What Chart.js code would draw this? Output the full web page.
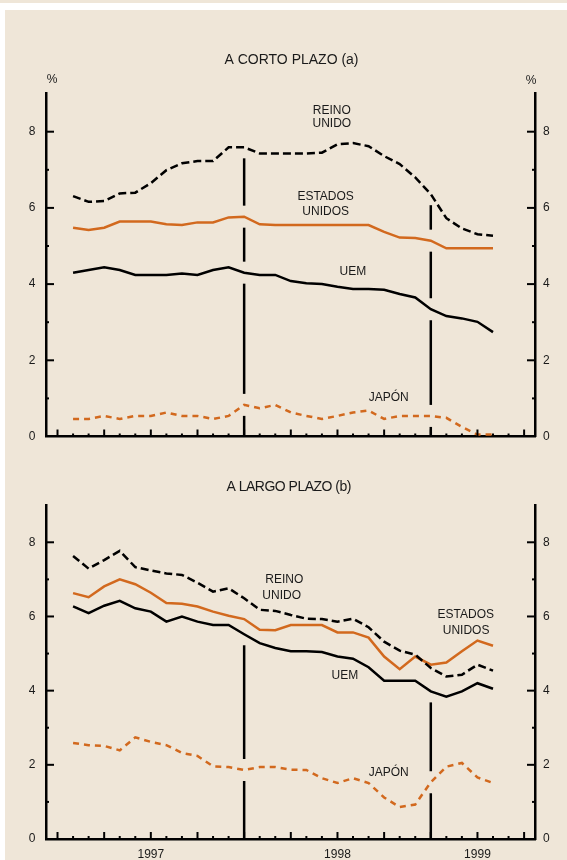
<!DOCTYPE html>
<html lang="es">
<head>
<meta charset="utf-8">
<title>Tipos de interés a corto y a largo plazo</title>
<script src="https://cdn.jsdelivr.net/npm/chart.js@4.4.0/dist/chart.umd.min.js"></script>
<style>
  html, body { margin: 0; padding: 0; background: #fff; }
  body { width: 567px; height: 860px; position: relative; overflow: hidden; }
  .franja { position: absolute; left: 0; top: 0; width: 567px; height: 3px; background: #efe6d8; }
  .panel { position: absolute; left: 5px; top: 10px; right: 0; bottom: 0; background: #efe6d8; }
  #grafCorto { position: absolute; left: 0; top: 0; }
  #grafLargo { position: absolute; left: 0; top: 460px; }
</style>
</head>
<body>
<div class="franja"></div>
<div class="panel"></div>
<canvas id="grafCorto" width="567" height="460"></canvas>
<canvas id="grafLargo" width="567" height="400"></canvas>

<script>
// ===============================
// Datos (mensuales, feb-1997 a may-1999)
// ===============================
const meses = [
  'feb-97', 'mar-97', 'abr-97', 'may-97', 'jun-97', 'jul-97', 'ago-97', 'sep-97', 'oct-97', 'nov-97', 'dic-97',
  'ene-98', 'feb-98', 'mar-98', 'abr-98', 'may-98', 'jun-98', 'jul-98', 'ago-98', 'sep-98', 'oct-98', 'nov-98', 'dic-98',
  'ene-99', 'feb-99', 'mar-99', 'abr-99', 'may-99'
];
const anios = ['1997', '1998', '1999'];
const valoresY = [0, 2, 4, 6, 8];

// A corto plazo (a)
const cortoReino = [6.31, 6.16, 6.18, 6.38, 6.40, 6.65, 6.99, 7.17, 7.23, 7.23, 7.59, 7.59, 7.43, 7.43,
  7.43, 7.43, 7.45, 7.67, 7.70, 7.62, 7.36, 7.15, 6.80, 6.36, 5.73, 5.46, 5.31, 5.27];
const cortoEEUU = [5.48, 5.42, 5.48, 5.64, 5.64, 5.64, 5.57, 5.55, 5.62, 5.62, 5.75, 5.77, 5.57, 5.55,
  5.55, 5.55, 5.55, 5.55, 5.55, 5.55, 5.37, 5.22, 5.21, 5.14, 4.94, 4.94, 4.94, 4.94];
const cortoUEM = [4.30, 4.37, 4.44, 4.37, 4.24, 4.24, 4.24, 4.28, 4.24, 4.37, 4.44, 4.30, 4.24, 4.24,
  4.08, 4.02, 4.00, 3.93, 3.87, 3.87, 3.85, 3.74, 3.65, 3.34, 3.16, 3.10, 3.01, 2.74];
const cortoJapon = [0.46, 0.46, 0.54, 0.46, 0.54, 0.54, 0.63, 0.54, 0.54, 0.46, 0.54, 0.83, 0.74, 0.83,
  0.63, 0.54, 0.46, 0.54, 0.63, 0.68, 0.46, 0.54, 0.54, 0.54, 0.49, 0.25, 0.05, 0.05];

// A largo plazo (b)
const largoReino = [7.63, 7.29, 7.52, 7.77, 7.33, 7.24, 7.16, 7.12, 6.91, 6.67, 6.76, 6.49, 6.18, 6.15,
  6.04, 5.94, 5.93, 5.86, 5.94, 5.71, 5.32, 5.08, 4.97, 4.61, 4.38, 4.43, 4.70, 4.54];
const largoEEUU = [6.63, 6.52, 6.81, 7.00, 6.87, 6.64, 6.36, 6.34, 6.27, 6.13, 6.02, 5.93, 5.64, 5.63,
  5.77, 5.77, 5.77, 5.57, 5.57, 5.43, 4.92, 4.58, 4.92, 4.70, 4.76, 5.06, 5.35, 5.21];
const largoUEM = [6.27, 6.09, 6.29, 6.42, 6.22, 6.13, 5.86, 6.00, 5.86, 5.77, 5.77, 5.52, 5.28, 5.15,
  5.06, 5.06, 5.04, 4.92, 4.86, 4.63, 4.27, 4.27, 4.27, 3.98, 3.84, 3.98, 4.20, 4.05];
const largoJapon = [2.59, 2.53, 2.51, 2.39, 2.74, 2.62, 2.53, 2.32, 2.24, 1.96, 1.94, 1.86, 1.94, 1.94,
  1.87, 1.86, 1.64, 1.51, 1.64, 1.51, 1.12, 0.86, 0.93, 1.53, 1.95, 2.05, 1.66, 1.51];

// ===============================
// Estilos
// ===============================
const NARANJA = '#d2691e';
const NEGRO = '#000';
const TEXTO = '#1a1a1a';
const FUENTE = '"Liberation Sans", Arial, sans-serif';

// posición en el eje x = meses desde ene-1997
function serie(valores) {
  return valores.map((v, i) => ({ x: i + 1, y: v }));
}

function datasets(reino, eeuu, uem, japon) {
  const base = { pointRadius: 0, borderWidth: 2.5, tension: 0, fill: false };
  return [
    { ...base, label: 'Reino Unido', data: serie(reino), borderColor: NEGRO, borderDash: [8, 4] },
    { ...base, label: 'Estados Unidos', data: serie(eeuu), borderColor: NARANJA },
    { ...base, label: 'UEM', data: serie(uem), borderColor: NEGRO },
    { ...base, label: 'Japón', data: serie(japon), borderColor: NARANJA, borderDash: [6, 5] }
  ];
}

// Marcas hacia dentro, líneas verticales y rótulos
const marcasPlugin = {
  id: 'marcas',
  afterDraw(chart, args, opts) {
    const { ctx, chartArea, scales } = chart;
    const x = scales.x, y = scales.y;
    const linea = (x1, y1, x2, y2) => {
      ctx.beginPath(); ctx.moveTo(x1, y1); ctx.lineTo(x2, y2); ctx.stroke();
    };
    ctx.save();
    ctx.strokeStyle = NEGRO;
    ctx.lineWidth = 2;

    // ticks del eje x (mensuales, trimestres más largos)
    for (let m = 0; m <= 30; m++) {
      const px = x.getPixelForValue(m);
      linea(px, chartArea.bottom, px, chartArea.bottom - (m % 3 === 0 ? 7 : 3));
    }
    // ticks de los ejes y
    for (let v = 1; v <= 8; v++) {
      const py = y.getPixelForValue(v);
      const largo = v % 2 === 0 ? 8 : 3;
      linea(chartArea.left, py, chartArea.left + largo, py);
      linea(chartArea.right, py, chartArea.right - largo, py);
    }

    // líneas verticales con huecos al cruzar las series
    ctx.lineWidth = 2.5;
    const hueco = 11;
    opts.verticales.forEach(m => {
      const px = x.getPixelForValue(m);
      const ys = chart.data.datasets
        .map(d => y.getPixelForValue(d.data[m - 1].y))
        .sort((a, b) => a - b);
      let inicio = ys[0] + hueco;
      for (let k = 1; k <= ys.length; k++) {
        const fin = k < ys.length ? ys[k] - hueco : chartArea.bottom;
        if (fin - inicio > 5) linea(px, inicio, px, fin);
        if (k < ys.length) inicio = Math.max(inicio, ys[k] + hueco);
      }
    });

    // textos
    ctx.fillStyle = TEXTO;
    ctx.textAlign = 'center';
    ctx.textBaseline = 'middle';
    ctx.font = '14px ' + FUENTE;
    if (opts.apretado) ctx.letterSpacing = '-0.5px';
    ctx.fillText(opts.titulo, opts.tituloX, opts.tituloY);
    ctx.letterSpacing = '0px';
    ctx.font = '12px ' + FUENTE;
    (opts.porcentaje || []).forEach(p => ctx.fillText('%', p[0], p[1]));
    opts.rotulos.forEach(r => {
      ctx.fillText(r.texto, x.getPixelForValue(r.x), y.getPixelForValue(r.y));
    });
    ctx.restore();
  }
};

function ejeY(posicion, ancho, relleno) {
  return {
    type: 'linear',
    position: posicion,
    min: 0,
    max: 9,
    afterBuildTicks: s => { s.ticks = valoresY.map(v => ({ value: v })); },
    ticks: { padding: relleno, color: TEXTO, font: { family: FUENTE, size: 12 } },
    grid: { display: false, drawTicks: false },
    border: { display: true, color: NEGRO, width: 2.5 },
    afterFit: s => { s.width = ancho; }
  };
}

function opciones(cfg) {
  return {
    responsive: false,
    animation: false,
    layout: { padding: { top: cfg.arriba, left: 0, right: 0, bottom: 0 } },
    plugins: {
      legend: { display: false },
      tooltip: { enabled: false },
      title: { display: false },
      marcas: cfg.marcas
    },
    scales: {
      x: {
        type: 'linear',
        min: -0.74,
        max: 30.7,
        afterBuildTicks: s => { s.ticks = [6, 18, 27].map(v => ({ value: v })); },
        ticks: {
          display: cfg.conAnios,
          autoSkip: false,
          maxRotation: 0,
          padding: 8,
          color: TEXTO,
          font: { family: FUENTE, size: 12 },
          callback: (v, i) => anios[i]
        },
        grid: { display: false, drawTicks: false },
        border: { display: true, color: NEGRO, width: 2.5 },
        afterFit: s => { s.height = cfg.altoX; }
      },
      y: ejeY('left', 46, 10.5),
      y2: ejeY('right', 32, 8)
    }
  };
}

// ===============================
// Gráfico A CORTO PLAZO
// ===============================
new Chart(document.getElementById('grafCorto'), {
  type: 'line',
  data: { datasets: datasets(cortoReino, cortoEEUU, cortoUEM, cortoJapon) },
  options: opciones({
    arriba: 93.6,
    altoX: 23.5,
    conAnios: false,
    marcas: {
      titulo: 'A CORTO PLAZO (a)',
      tituloX: 291.5,
      tituloY: 60,
      porcentaje: [[52, 79.5], [531, 81]],
      verticales: [12, 24],
      rotulos: [
        { texto: 'REINO', x: 17.64, y: 8.54 },
        { texto: 'UNIDO', x: 17.64, y: 8.21 },
        { texto: 'ESTADOS', x: 17.24, y: 6.30 },
        { texto: 'UNIDOS', x: 17.24, y: 5.89 },
        { texto: 'UEM', x: 18.99, y: 4.32 },
        { texto: 'JAPÓN', x: 21.29, y: 1.03 }
      ]
    }
  }),
  plugins: [marcasPlugin]
});

// ===============================
// Gráfico A LARGO PLAZO
// ===============================
new Chart(document.getElementById('grafLargo'), {
  type: 'line',
  data: { datasets: datasets(largoReino, largoEEUU, largoUEM, largoJapon) },
  options: opciones({
    arriba: 45.2,
    altoX: 21,
    conAnios: true,
    marcas: {
      titulo: 'A LARGO PLAZO (b)',
      apretado: true,
      tituloX: 288.7,
      tituloY: 27,
      verticales: [12, 24],
      rotulos: [
        { texto: 'REINO', x: 14.58, y: 6.98 },
        { texto: 'UNIDO', x: 14.41, y: 6.56 },
        { texto: 'ESTADOS', x: 26.25, y: 6.06 },
        { texto: 'UNIDOS', x: 26.27, y: 5.62 },
        { texto: 'UEM', x: 18.48, y: 4.39 },
        { texto: 'JAPÓN', x: 21.29, y: 1.78 }
      ]
    }
  }),
  plugins: [marcasPlugin]
});
</script>
</body>
</html>
